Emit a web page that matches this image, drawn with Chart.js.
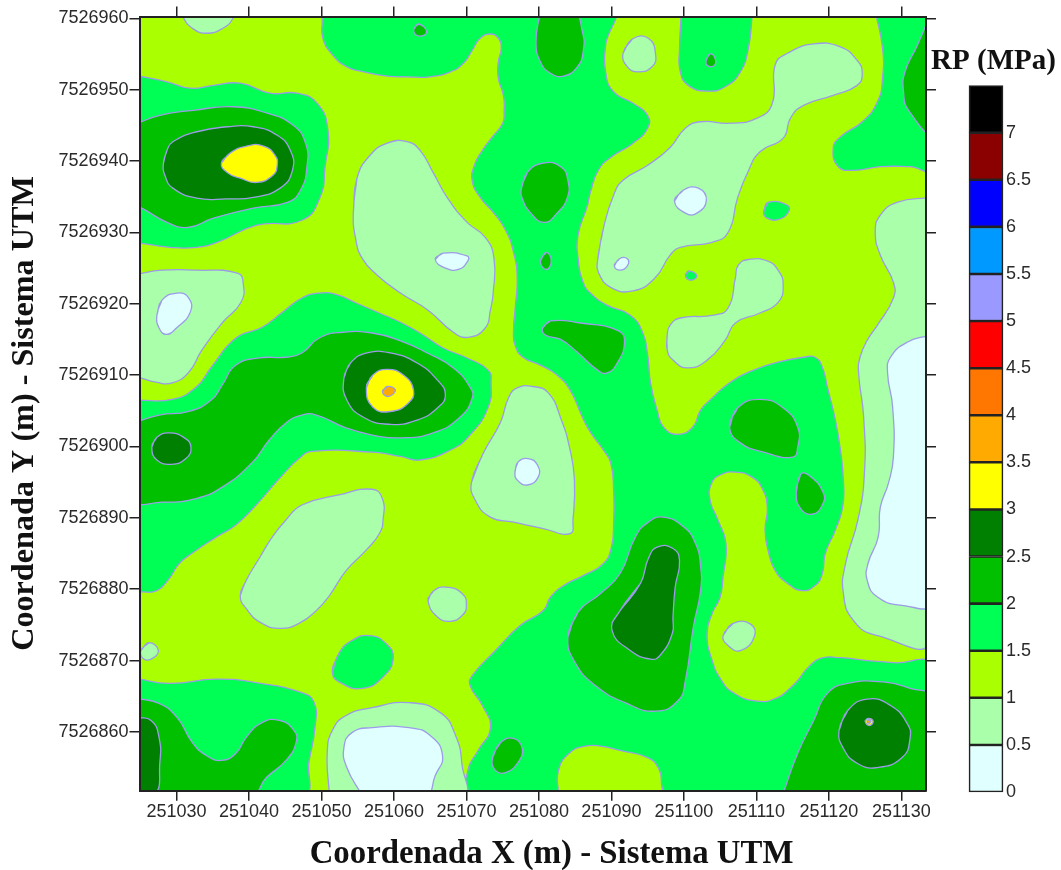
<!DOCTYPE html>
<html><head><meta charset="utf-8">
<script src="https://cdn.jsdelivr.net/npm/chart.js@4"></script>
<style>html,body{margin:0;padding:0;background:#fff}canvas{position:absolute}</style>
</head><body>
<canvas id="map" width="1061" height="870" style="left:0;top:0"></canvas>
<canvas id="bar" width="134" height="790" style="left:927px;top:40px"></canvas>
<script>
const xTitle = "Coordenada X (m) - Sistema UTM";
const yTitle = "Coordenada Y (m) - Sistema UTM";
const barTitle = "RP (MPa)";
const xTicks = [251030,251040,251050,251060,251070,251080,251090,251100,251110,251120,251130];
const yTicks = [7526860,7526870,7526880,7526890,7526900,7526910,7526920,7526930,7526940,7526950,7526960];
const xRange = [251024.9,251133.4];
const yRange = [7526851.76,7526960.25];
const X0 = 251000, Y0 = 7526800;
const barLevels = [0,0.5,1,1.5,2,2.5,3,3.5,4,4.5,5,5.5,6,6.5,7];
const barColors = ['#e0ffff','#aaffaa','#aaff00','#00ff55','#00c000','#008000','#ffff00','#ffaa00','#ff7700','#ff0000','#9999ff','#0099ff','#0000ff','#8b0000','#000000'];

// contour lines, flat x,y pairs in metres from X0,Y0
const base = [10,175, 150,175, 150,35, 10,35];
const g_main = [50,161,89.9,161,89.2,156.2,89.2,152.5,90.3,149.7,93,148.1,95,146.4,95,144.6,93,142.5,89.9,140.5,88.2,138.7,87.1,135.6,86.7,133.8,85.4,129.6,85.4,126.4,86.1,123,87.1,121.5,89.4,119.8,92.6,118.4,94.3,116,95,112.8,95.4,108.9,96.3,105.1,97.2,102.7,99.1,101.7,101.2,102.7,102.3,105.1,103.6,106.5,106.4,109,109.6,110.7,113.3,111.9,116.5,112.5,118.1,112.5,119.1,111.1,119.8,108.3,120.9,103.7,121.6,99.5,122,95.3,121.9,91.5,120.9,88.3,119.5,85,119.1,82.2,118.1,80.5,116.3,79.8,114.3,80.8,112.6,82.6,111.6,85.5,111.2,88.3,111.5,91.5,110.8,94.1,109.4,95.7,107.1,96.4,105,96,103.8,94.8,103.6,92.5,104.7,89.7,105.8,86.4,105.4,81.7,105,78.9,103.9,76.6,103.2,73.8,103.9,70,105.2,67.2,106.8,65.5,110.1,64.3,112.9,64.8,114.7,66.2,115.7,67.2,117,68.9,118.8,70.3,121.6,70.4,125.3,70,128.9,69.7,134,69.2,134,51.1,70.5,51.1,70.2,54.6,71.6,57.4,73.3,60.5,72.2,63.7,70.5,66.5,70.8,67.9,74,71.4,77.4,74.9,80.6,77,81.6,78.9,83.4,80.5,86.1,81.9,88.9,83.6,90,85.9,90.3,89.2,90.3,93.9,89.9,97.7,88.9,99.5,87.1,102,86,104.1,84.3,107.9,82.5,110,80.2,111.4,77.8,112.5,76.7,114.2,76.5,116.3,76.7,119.1,77,123.6,76.5,127.2,75.4,130.3,73.7,132.8,71.9,134.9,70.8,137.2,71.1,139.4,72.2,141.5,73.6,143.4,75,145.3,75.2,146.9,75.1,149.2,74.4,151.6,74.4,153.9,74.8,155.8,74.4,157.2,73.3,157.8,71.9,157.2,70.8,155.5,69.6,153.7,67.8,152.5,65,151.8,61.8,151.8,59.1,151.9,55.8,152.5,53.5,153.2,51.5,154.9,50.2,157.2,50.1,160];
const g_top = [99.6,161,99.6,160.2,99.4,155.8,99.5,152.5,100.6,150.6,103.2,149.8,105.7,150.4,107.8,152.5,108.9,155.8,109.4,160.2,109.4,161];
const g_topRight = [126.4,161,127.4,155.8,127.4,151.6,126.7,148.3,124.6,145.5,121.6,143.4,120.6,141.8,121.3,139.2,123.4,138.7,127.1,139.2,131.2,139.2,134,139,134,161];
const g_topLeft = [24.4,152,28.7,151.1,31.9,150.2,35.1,150.6,38.8,150.9,42.9,149.5,46.6,149.5,49.4,148.1,50.9,144.3,50.5,139.2,49.8,134.9,47.3,131.7,41.1,131,35.6,128.6,32.8,127.9,29.1,127.9,25,128.5,24.4,128.5];
const g_midLeft = [24.4,106.5,29.4,106.6,32.7,108.3,34.8,111.1,38.2,115.2,41.8,116.7,44.6,118.8,47.3,120.8,49.7,121.5,52,121.3,54.8,120.1,58,118.7,60.9,117.4,63.6,115.9,66.8,113.8,70.1,112.4,73,110.7,73.4,109,73,105.5,70.5,101.6,67.8,99.5,63.6,98.1,60.9,98.6,57,99.2,48.7,99.3,46.9,98.3,44.2,95.5,41,91.8,38.2,89,35.5,87.3,32.4,85.2,30.4,83.6,29,81.5,27.3,79.8,25,79.6,24.4,79.6];
const g_botLeft = [24.4,67.5,29,66.8,35.5,67.4,41,66.9,47.3,65.5,49,64.1,49.1,60.6,48.3,56,47.3,51.1,24.4,51.1];
const g_island = [51.5,68.3,52.4,71,54.2,72.8,56.6,73.5,58.9,72.4,59.9,70.3,58.4,67.6,55.6,66.1,52.8,66.8];
const g_spot1 = [111,132.8,111.6,134.2,114.3,133.8,114.4,132.8,113,131.8,111.5,132];
const g_spot2 = [100.2,124,100.7,124.6,101.8,123.9,100.9,123.3];
const y_patch = [82.7,51.1,82.7,54.6,84.3,57.1,86.4,58,88.5,58,91.2,57.4,95,56.4,96.5,54.9,96.9,52.8,96.7,51.1];

const l_top = [30.9,161,30.9,160.2,32.2,158.6,34.2,157.9,36.4,158.6,37.8,160,37.8,161];
const l_left = [24.4,124.1,28,124.7,32.7,124.7,38.4,124.3,39.2,122.9,38.9,120.2,36.3,117.3,33.5,113.5,31.7,110.4,29.4,108.9,27.2,109,25,109.6,24.4,109.6];
const l_diag = [38.8,79.1,39.6,81.2,41.4,84.3,43.2,87.3,45.1,89.7,47.3,91.8,52.4,93.2,57,94,58.4,92.7,58.5,89.7,58,87.8,56.2,85.5,53.4,82.6,51.1,79.1,49.3,77,46.9,75.2,44.4,74.5,41.8,75.2,39.6,77.3];
const l_small = [25.1,71.4,26.2,72.5,27.5,71.4,26.5,70.2,25.4,70.3];
const l_bottom = [51.1,51.1,50.8,57,51.5,60.2,53.4,62.3,57,63.4,62.1,64.1,66.4,62.7,68.5,59.5,69.4,55.3,69.4,51.1];
const l_center = [54.4,132.8,54.9,137.6,56.7,140.8,59.1,142.5,61.8,142.7,63.6,141.5,65.4,138.4,67.4,134.8,70.1,131.4,72.6,129.3,73.8,126.4,73.7,121.6,73.3,119.1,72.6,116.6,70.2,115.3,68.2,116,64.7,119.1,60.9,121.5,57.7,124,55.6,126.4,54.7,129.2];
const l_tri = [70.7,95,72.3,99,74.7,103.4,75.8,106.8,77,108.2,79.2,108.4,81.3,107.5,83,104,84.3,99.5,84.9,95.3,84.7,89.7,84.3,87.8,80.6,88.5,76.5,89.4,73.3,90.1,71.2,92.5];
const l_round = [64.7,78.4,65.4,79.7,67.1,80.3,69.4,79.4,70,77.7,69.4,76.3,67.8,75.5,66,76.1];
const l_ne = [88.1,126.1,88.9,130.6,90.3,135.2,91.6,137.3,95,139.4,98.1,141.9,100.2,144.6,102.3,145.5,106.4,145.3,110.1,146,112.2,148.1,112.6,153.5,114.3,155.1,117.9,156.4,121.6,156,123.9,154.1,124.6,152.3,123.9,150.6,120.6,149.2,116.5,147.8,114.7,146,113.7,143.2,110.5,141.3,108.8,138.4,107.4,134.8,106.1,130,103.9,128.6,99.5,127.9,98.1,126.8,96,123.6,93,121.8,89.9,122.3,88.2,124.4];
const l_dot = [91.6,155.1,92.9,157.1,95.1,157.2,96.1,154.9,95.6,153.2,93.7,152.5,92.2,153.2];
const l_midRight = [97.7,113.5,97.7,115.6,98.1,117,99.5,118,104.1,118.4,106.1,119.4,107.1,123.6,107.5,125.4,108.9,126.2,111.5,126,113,124.7,113.7,122.6,113,120.2,110.5,118.7,107.1,117.3,105.7,114.9,103.2,112.1,100.5,111,98.5,112.1];
const l_right = [134,134.9,129.4,134.2,127.1,132.4,126.4,130,127.1,126.8,128.9,123,128.9,120.8,126.7,117,125.3,114.9,124.3,112.5,124.1,110.3,124.8,104.1,124.9,96.2,124,89.7,122.3,83.6,122,79.4,123.4,75.6,126.7,73.5,134,73.1];
const l_lowDot = [105.4,73.5,106.8,75.2,109.2,75.1,109.7,73.3,107.8,71.4,106.1,72.1];

const c_left = [27.3,118.4,28,120.5,30.1,121.5,31.7,120.8,31.9,118.8,30,116.6,28.6,115.7,27.6,116.6];
const c_bottom = [55.6,51.1,53.5,55,53.1,57.8,54.2,59.9,57,60.6,62.1,60.6,65,59.5,66.7,56.7,65.7,53.9,64.3,51.1];
const c_center = [65.7,126.2,66.8,127.1,70.1,126.7,70.2,126,68.9,124.8,67.1,125];
const c_tri = [76.7,96.4,77.1,97.8,78.5,98.3,79.8,97.4,79.9,95.7,78.4,94.6,77,95.3];
const c_ne1 = [98.7,134.4,99.9,135.9,102,136.2,103.1,134.5,101.8,132.7,100.2,132.7];
const c_ne2 = [90.4,125.3,91.1,126.3,92.2,126.3,92.2,125.3,91.2,124.7];
const c_right = [134,115.6,130.8,114.6,128.5,112.5,128.1,110.3,128.8,105.5,128.9,98.5,128.2,94.8,127.1,91.5,126.8,87.3,125.4,83.6,125.3,81.2,126.7,78.9,130.3,77.7,134,78.2];

const d_topLeft = [24.4,145.2,27.7,146.4,32.3,147.1,37.8,147.6,42.5,146.7,46.1,145,47.8,142.5,48,139.2,47.1,135.9,45.3,134.2,40.6,133.4,35.1,132,31.6,130.7,28.7,131.4,25,133.5,24.4,133.5];
const d_midLeft = [24.4,103.4,27.6,104.4,31.7,104.9,34.8,106.5,36.3,108.6,38.2,111.4,41.4,112.4,45.1,112.5,47.3,113.1,49.7,115.2,52.9,116,57,115.9,60.9,114.8,64.6,113.1,68.2,111,70.5,108.3,70.8,106.8,69.1,104.1,65.4,101.9,60.9,101.2,57,101.6,53.4,102.6,49.3,104.4,47.3,104.4,45.1,103.3,42.8,100.9,40.4,97.7,36.3,94.3,32.7,92.7,28,92.2,24.4,92.6];
const d_botLeft = [24.4,64.7,27.6,64,30.1,62,32.2,58.5,34.1,56.7,36.2,56,38.2,57,39.6,59.2,41.8,61.3,44.2,61.6,46.2,60.2,46.5,58.5,45.1,56,42.4,53.6,40.2,51.1,24.4,51.1];
const d_bot = [73.6,56.4,74.7,58.5,76.5,59.1,77.7,57.7,77.1,55.7,75.4,54.3,74,54.6];
const d_tiny = [62.7,158.4,63.4,159.2,64.5,158.1,63.5,157.5];
const d_top = [80.2,161,79.6,156.7,80.2,153.9,81.6,152.3,83.4,151.9,85.3,153.2,86.1,155.3,86,158.1,84.7,161];
const d_oval = [77.6,136.2,78.4,138.4,80.6,139.7,83,139.2,84,137.3,83.9,134.8,82.5,132.7,80.7,131.4,78.8,132.8,77.7,134.8];
const d_diamond = [80.2,126,81,127.2,81.7,126,81,124.8];
const d_wedge = [80.5,116.6,81.6,117.6,85.7,117.3,91,116.2,91.8,114.5,90.8,111.7,89.4,110.3,88.1,110.7,85.3,113.2,83,115,80.9,115.6];
const d_south = [84,73.3,85.4,76.8,88.5,79.4,91.2,82.2,93.3,87.3,95.1,89.4,97.2,90.1,100,88.7,101.6,86.4,102.3,83.3,102.3,79.8,101.3,74.7,100.2,67.2,99.2,64.4,96.1,62.9,91.9,64.1,87.8,66.5,85,69.7];
const d_tinyTop = [103.1,154.2,103.6,155,104.3,154.4,104.2,153.4,103.2,153.4];
const d_edge = [134,160.5,132.2,156.2,130.5,152.5,130.3,149.7,131,147.1,134,144.3];
const d_blob = [106.3,102.7,107.4,105.4,110.5,106.6,113.7,105.4,115.7,102.7,115.7,99.9,115,98.5,111,99.2,107.8,100.5];
const d_blob2 = [115.5,93.6,116.1,96.1,117.2,96,119.2,93.6,119.1,91.8,117.7,90.5,116.1,91.3];
const d_corner = [113.6,51.1,115.7,57,117.9,61.6,119.8,65.4,122.6,66.8,127.5,67,131.2,66.1,134,64.8,134,51.1];

const e_topLeft = [28.2,139.7,28.7,141.5,29.5,142.7,32.8,144.1,37,144.8,40.6,144.8,43.9,143.6,45.7,141.5,46,138.7,44.3,136.2,40.6,134.9,37,134.7,32.8,134.8,29.5,136.2,28.4,138];
const e_small = [26.6,99.9,27.3,101.3,29,101.9,31.1,101.2,32,99.9,31.3,98.3,29.3,97.5,27.3,98.1];
const e_eye = [53.1,109.6,54,111.7,56.3,113.1,59.5,113.1,63.2,111.7,66,109.3,67.1,107.2,66,105.4,63.2,103.7,59.5,103.1,55.8,104.1,53.5,106.5];
const e_botLeft = [24.4,62,26.5,61.6,27.6,59.2,27.7,55.6,27,51.1,24.4,51.1];
const e_south = [91.2,77,94,80.8,95.1,84.3,96.3,85.9,98.5,85.7,99.4,84,98.8,80.3,98.5,76.1,98.4,73.8,96.7,70.7,95.4,70.2,92.6,71.4,90.1,74.2];
const e_corner = [121.4,60.2,122.6,63,125.3,64.6,128.5,63.7,130.8,61.2,131.2,59.1,130.1,56.4,126.7,55,123.9,55.6,122,57.7];

const f_topLeft = [36.2,139.7,37.4,141.1,39.7,142.1,42,142.1,43.6,140.8,43.9,139.4,43.3,138,41.1,137,38.8,137.6,37,138.4];
const f_eye = [56.2,108.2,57.1,110,59.1,110.8,61.3,110,62.7,107.9,62,106.1,59.5,104.9,57.1,105.5];
const f_corner = [125,61.5,125.4,61.9,126.1,61.5,125.6,60.9];
const o_eye = [58.4,107.7,59.1,108.4,60.2,107.9,59.2,107];
const o_corner = [125.3,61.5,125.5,61.7,125.8,61.5,125.5,61.2];

const [C0,C05,C1,C15,C2,C25,C3,C35] = barColors;
const layers = [
  [C1,[base]],
  [C15,[g_main,g_top,g_topRight,g_topLeft,g_midLeft,g_botLeft,g_island,g_spot1,g_spot2]],
  [C1,[y_patch]],
  [C05,[l_top,l_left,l_diag,l_small,l_bottom,l_center,l_tri,l_round,l_ne,l_dot,l_midRight,l_right,l_lowDot]],
  [C0,[c_left,c_bottom,c_center,c_tri,c_ne1,c_ne2,c_right]],
  [C2,[d_topLeft,d_midLeft,d_botLeft,d_bot,d_tiny,d_top,d_oval,d_diamond,d_wedge,d_south,d_tinyTop,d_edge,d_blob,d_blob2,d_corner]],
  [C25,[e_topLeft,e_small,e_eye,e_botLeft,e_south,e_corner]],
  [C3,[f_topLeft,f_eye,f_corner]],
  [C35,[o_eye,o_corner]]
];
function toPoints(flat){
  const p=[];
  for(let i=0;i<flat.length;i+=2) p.push({x:X0+flat[i],y:Y0+flat[i+1]});
  const f=p[0];
  const inside=f.x>xRange[0]&&f.x<xRange[1]&&f.y>yRange[0]&&f.y<yRange[1];
  // islands wrap round for a smooth join; shapes cut by the frame close outside it
  if(inside) p.push(p[0],p[1]); else p.push(p[0]);
  return p;
}
const datasets=[];
layers.forEach(([color,list])=>list.forEach(flat=>datasets.push({
  data:toPoints(flat),showLine:true,fill:'shape',backgroundColor:color,borderColor:'#9c9ce8',borderWidth:1.3,
  pointRadius:0,pointHoverRadius:0,tension:0.5,xAxisID:'x',yAxisID:'y'
})));
datasets.reverse(); // Chart.js paints the last dataset first

const tickFont={family:'"Liberation Sans",Arial,sans-serif',size:18};
const inkTick='#2a2a2a';
const axisLine={color:'#222',width:2,z:1};
const gridLook={display:true,drawOnChartArea:false,drawTicks:true,tickLength:10,color:'#222',lineWidth:1.5};
function pinnedAxis(values,range,position,thickness,showLabels,horizontal){
  return {type:'linear',position,min:range[0],max:range[1],
    border:axisLine,grid:gridLook,
    afterBuildTicks(s){s.ticks=values.map(value=>({value}));},
    afterFit(s){if(horizontal)s.height=thickness;else s.width=thickness;},
    ticks:{display:showLabels,autoSkip:false,maxRotation:0,minRotation:0,padding:1,color:inkTick,font:tickFont,callback:v=>String(v)}
  };
}
const titlePlugin={id:'axisText',afterDraw(c){
  const g=c.ctx;g.save();g.fillStyle='#111';
  g.textAlign='center';g.textBaseline='middle';
  g.font='bold 32.8px "Liberation Serif","Times New Roman",serif';
  g.fillText(xTitle,551.5,855);
  g.font='bold 32.2px "Liberation Serif","Times New Roman",serif';
  g.translate(25,413.5);g.rotate(-Math.PI/2);g.fillText(yTitle,0,0);
  g.restore();
}};
new Chart(document.getElementById('map'),{type:'scatter',data:{datasets},plugins:[titlePlugin],
  options:{responsive:false,animation:false,devicePixelRatio:1,layout:{padding:0},
    plugins:{legend:{display:false},tooltip:{enabled:false},title:{display:false}},
    events:[],
    scales:{
      x:pinnedAxis(xTicks,xRange,'bottom',79.3,true,true),
      x2:pinnedAxis(xTicks,xRange,'top',16.5,false,true),
      y:pinnedAxis(yTicks,yRange,'left',139.5,true,false),
      y2:pinnedAxis(yTicks,yRange,'right',135,false,false)
    }}});

const barTitlePlugin={id:'barText',afterDraw(c){
  const g=c.ctx;g.save();g.fillStyle='#111';g.textAlign='center';g.textBaseline='middle';
  g.font='bold 29px "Liberation Serif","Times New Roman",serif';
  g.fillText(barTitle,66.5,22);
  g.restore();
}};
new Chart(document.getElementById('bar'),{type:'bar',plugins:[barTitlePlugin],
  data:{labels:[barTitle],datasets:barLevels.map((lv,i)=>({label:String(lv),data:[0.5],backgroundColor:barColors[i],borderColor:'#222',borderWidth:1.6,borderSkipped:false,barPercentage:1,categoryPercentage:1,stack:'s',clip:false}))},
  options:{responsive:false,animation:false,devicePixelRatio:1,events:[],
    layout:{padding:{left:42,top:45.6,bottom:38,right:0}},
    plugins:{legend:{display:false},tooltip:{enabled:false},title:{display:false}},
    scales:{
      x:{display:false,stacked:true},
      y:{stacked:true,position:'right',min:0,max:7.5,border:{display:false},grid:{display:false,drawTicks:false,tickLength:0},
        afterBuildTicks(s){s.ticks=barLevels.map(value=>({value}));},
        afterFit(s){s.width=58;},
        ticks:{autoSkip:false,padding:3,color:inkTick,font:tickFont,callback:v=>String(v)}}
    }}});
</script>
</body></html>
